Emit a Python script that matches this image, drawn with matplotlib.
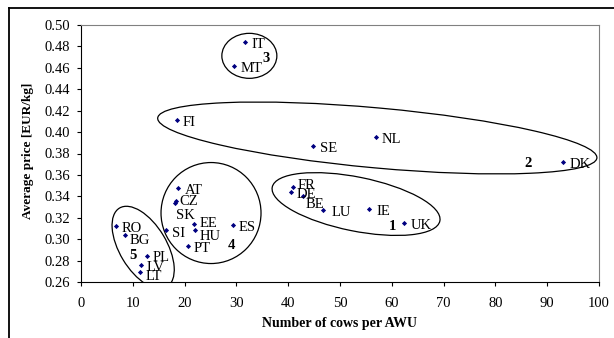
import numpy as np
import matplotlib
matplotlib.use('Agg')
import matplotlib.pyplot as plt
from matplotlib.patches import Ellipse
from matplotlib.transforms import ScaledTranslation
from matplotlib.lines import Line2D

# country data: cows per AWU, average price EUR/kg
countries = ['IT', 'MT', 'FI', 'SE', 'NL', 'DK', 'FR', 'DE', 'BE', 'LU', 'IE', 'UK',
             'AT', 'CZ', 'SK', 'SI', 'EE', 'HU', 'PT', 'ES', 'RO', 'BG', 'PL', 'LV', 'LT']
cows = [31.7, 29.6, 18.5, 44.8, 56.9, 93.1, 40.9, 40.5, 42.9, 46.8, 55.6, 62.4,
        18.7, 18.3, 18.2, 16.5, 21.9, 22.1, 20.6, 29.3, 6.7, 8.4, 12.8, 11.5, 11.4]
price = [0.484, 0.462, 0.411, 0.387, 0.395, 0.372, 0.349, 0.344, 0.340, 0.327, 0.328, 0.315,
         0.348, 0.336, 0.334, 0.309, 0.314, 0.309, 0.294, 0.313, 0.312, 0.304, 0.284, 0.276, 0.269]

# label offsets in pixels (dx, dy), default (6, -1)
label_offsets = {'SK': (1, -11), 'BE': (2, -7), 'DE': (6, -1), 'FR': (5, 3), 'LU': (8, -1),
                 'LT': (6, -3), 'HU': (4, -5), 'EE': (5, 2), 'BG': (5, -4), 'SI': (6, -2),
                 'CZ': (4, 1), 'AT': (7, -1), 'UK': (7, -1), 'IE': (7, -1), 'SE': (7, -1),
                 'PL': (5, 0)}

# clusters: id, label position, ellipse centre (data), size in px, angle
groups = ['1', '2', '3', '4', '5']
group_lx = [60.2, 86.3, 35.7, 29.0, 10.0]
group_ly = [0.313, 0.372, 0.4704, 0.2955, 0.2861]
ell_cx = [53.1, 57.2, 32.5, 25.1, 12.0]
ell_cy = [0.3328, 0.3945, 0.4712, 0.3244, 0.2922]
ell_w = [171, 441, 55, 100, 92]
ell_h = [54, 60, 45, 101, 47]
ell_ang = [-11.4, -5.2, 0, 0, -59]

plt.rcParams['font.family'] = ['Liberation Serif', 'DejaVu Serif']

fig = plt.figure(figsize=(6.14, 3.38), dpi=100)
ax = fig.add_axes([81/614, 1-282/338, 518/614, 257/338])

ax.scatter(cows, price, marker='D', s=7, color='#000080', zorder=3, linewidths=0)

for c, x, y in zip(countries, cows, price):
    dx, dy = label_offsets.get(c, (6, -1))
    ax.annotate(c, (x, y), xytext=(dx, dy), textcoords='offset pixels',
                ha='left', va='center_baseline', fontsize=10.5)

for g, x, y in zip(groups, group_lx, group_ly):
    ax.text(x, y, g, fontsize=10.5, fontweight='bold', ha='center', va='center_baseline')

for cx, cy, w, h, a in zip(ell_cx, ell_cy, ell_w, ell_h, ell_ang):
    tr = fig.dpi_scale_trans + ScaledTranslation(cx, cy, ax.transData)
    ax.add_patch(Ellipse((0, 0), w/100, h/100, angle=a, transform=tr,
                         fill=False, ec='black', lw=0.9))

ax.set_xlim(0, 100)
ax.set_ylim(0.26, 0.50)
ax.set_xticks(np.arange(0, 101, 10))
ax.set_yticks(np.arange(0.26, 0.501, 0.02))
ax.yaxis.set_major_formatter(matplotlib.ticker.FormatStrFormatter('%.2f'))
ax.tick_params(direction='out', length=3, width=0.8, labelsize=10.5)
ax.tick_params(axis='x', pad=8)
ax.tick_params(axis='y', pad=5)
for s in ['top', 'right']:
    ax.spines[s].set_color('#808080')
for s in ['left', 'bottom']:
    ax.spines[s].set_color('black')

ax.set_xlabel('Number of cows per AWU', fontsize=10, fontweight='bold', va='center')
ax.xaxis.set_label_coords(0.5, -0.163)
ax.set_ylabel('Average price [EUR/kg]', fontsize=9.5, fontweight='bold', va='center', ha='center')
ax.yaxis.set_label_coords(-0.102, 0.51)

# outer frame (cropped)
fig.add_artist(Line2D([9/614, 9/614], [0, 1-8/338], color='black', lw=1.3))
fig.add_artist(Line2D([9/614, 1], [1-8/338, 1-8/338], color='black', lw=1.3))

# source line, mostly cut off at the top edge
fig.text(0, 1+4/338, 'Source: FADN, own calculations', fontsize=12, va='baseline',
         ha='left', color='#777777')

fig.savefig('out.png', dpi=100)
